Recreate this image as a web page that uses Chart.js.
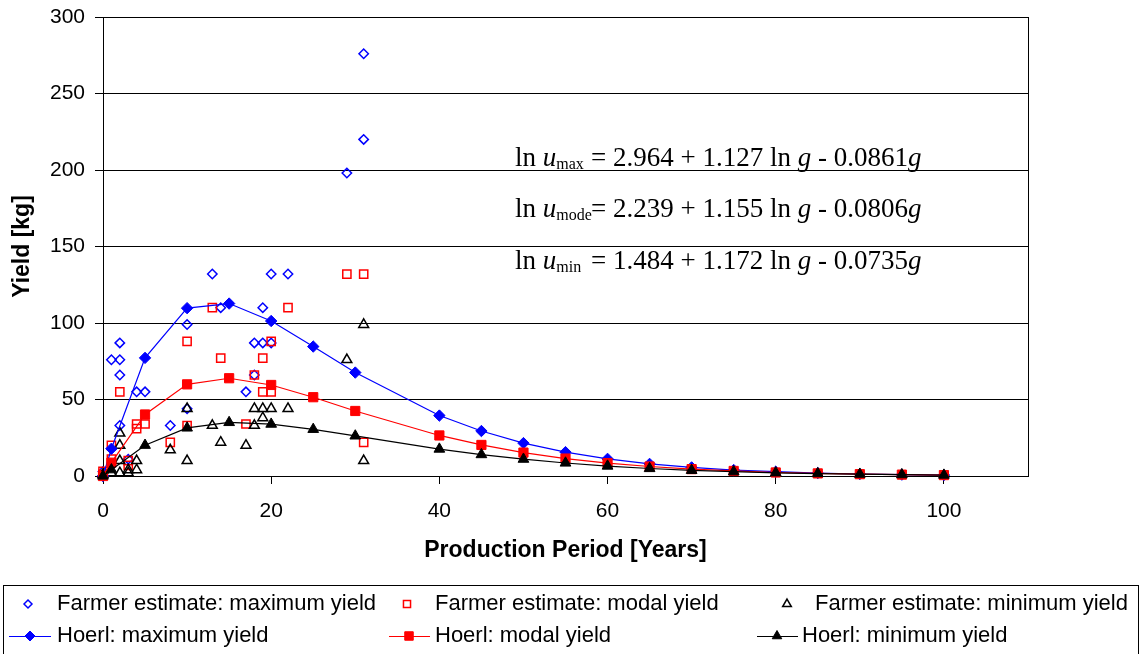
<!DOCTYPE html>
<html lang="en">
<head>
    <meta charset="UTF-8">
    <title>Yield vs production period</title>
    <style>
        body { margin: 0; background: #fff; }
        #chartBlock { width: 1142px; height: 654px; position: relative; }
    </style>
</head>
<body>
    <div id="chartBlock"><canvas id="myChart"></canvas></div>

<script src="https://cdn.jsdelivr.net/npm/chart.js@4/dist/chart.umd.min.js"></script>
<script>
    // farmer estimates: years, kg
    var maxEstX = [0, 2, 1, 2, 2, 2, 3, 4, 5, 8, 10, 10, 13, 14, 17, 18, 18, 19, 19, 20, 20, 22, 29, 31, 31];
    var maxEstY = [3, 87, 76, 76, 66, 33, 11, 55, 55, 33, 99, 44, 132, 110, 55, 87, 66, 110, 87, 132, 87, 132, 198, 276, 220];

    var modeEstX = [0, 0, 1, 1, 2, 3, 3, 4, 4, 5, 8, 10, 10, 13, 14, 17, 18, 19, 19, 20, 20, 22, 29, 31, 31];
    var modeEstY = [1, 3, 20, 11, 55, 10, 7, 34, 31, 34, 22, 88, 33, 110, 77, 34, 66, 77, 55, 88, 55, 110, 132, 132, 22];

    var minEstX = [0, 1, 2, 3, 3, 4, 2, 4, 2, 2, 8, 10, 10, 13, 14, 17, 18, 18, 19, 19, 20, 22, 29, 31, 31];
    var minEstY = [1, 2, 2, 2, 4, 4, 10, 10, 20, 28, 17, 44, 10, 33, 22, 20, 44, 33, 44, 38, 44, 44, 76, 99, 10];

    // Hoerl curves
    var hoerlX = [0, 1, 5, 10, 15, 20, 25, 30, 40, 45, 50, 55, 60, 65, 70, 75, 80, 85, 90, 95, 100];
    var hoerlMax = [0, 17.8, 77.2, 109.7, 112.7, 101.3, 84.6, 67.6, 39.5, 29.4, 21.5, 15.6, 11.2, 7.9, 5.6, 3.9, 2.8, 1.9, 1.3, 0.9, 0.6];
    var hoerlMode = [0, 8.7, 40.2, 59.9, 63.9, 59.5, 51.5, 42.5, 26.5, 20.3, 15.3, 11.4, 8.4, 6.2, 4.5, 3.3, 2.3, 1.7, 1.2, 0.9, 0.6];
    var hoerlMin = [0, 4.1, 20.1, 31.4, 35.0, 33.9, 30.5, 26.2, 17.6, 14.0, 11.0, 8.5, 6.5, 4.9, 3.7, 2.8, 2.1, 1.6, 1.2, 0.9, 0.6];

    var xTicks = [0, 20, 40, 60, 80, 100];

    // fitted equations: ln u = a + b ln g - c g
    var eqSub = ['max', 'mode', 'min'];
    var eqA = ['2.964', '2.239', '1.484'];
    var eqB = ['1.127', '1.155', '1.172'];
    var eqC = ['0.0861', '0.0806', '0.0735'];

    var SANS = '"Liberation Sans", Arial, sans-serif';
    var SERIF = '"Liberation Serif", "Times New Roman", serif';
    Chart.defaults.font.family = SANS;
    Chart.defaults.color = '#000';

    function pts(xs, ys) {
        var out = [];
        for (let i = 0; i < xs.length; i++) {
            out.push({ x: xs[i], y: ys[i] });
        }
        return out;
    }

    function estSet(label, xs, ys, style, color, r) {
        return {
            label: label,
            data: pts(xs, ys),
            pointStyle: style,
            pointRadius: r,
            pointBorderColor: color,
            pointBackgroundColor: 'rgba(0,0,0,0)',
            pointBorderWidth: 1.5,
            showLine: false,
            clip: false
        };
    }

    function hoerlSet(label, ys, style, color, r) {
        return {
            label: label,
            data: pts(hoerlX, ys),
            pointStyle: style,
            pointRadius: r,
            pointBorderColor: color,
            pointBackgroundColor: color,
            pointBorderWidth: 1,
            borderColor: color,
            borderWidth: 1.2,
            showLine: true,
            lineTension: 0,
            clip: false
        };
    }

    var datasets = [
        estSet('Farmer estimate: maximum yield', maxEstX, maxEstY, 'rectRot', '#0000ff', 4.7),
        estSet('Farmer estimate: modal yield', modeEstX, modeEstY, 'rect', '#ff0000', 5.8),
        estSet('Farmer estimate: minimum yield', minEstX, minEstY, 'triangle', '#000000', 5.7),
        hoerlSet('Hoerl: maximum yield', hoerlMax, 'rectRot', '#0000ff', 5.7),
        hoerlSet('Hoerl: modal yield', hoerlMode, 'rect', '#ff0000', 6.5),
        hoerlSet('Hoerl: minimum yield', hoerlMin, 'triangle', '#000000', 6.2)
    ];
    // black drawn last (on top)
    var drawOrder = [6, 5, 4, 3, 2, 1];
    datasets.forEach((d, i) => { d.order = drawOrder[i]; });

    var framePlugin = {
        id: 'frame',
        beforeDatasetsDraw(chart) {
            var a = chart.chartArea, ctx = chart.ctx;
            ctx.save();
            ctx.strokeStyle = '#000';
            ctx.lineWidth = 1;
            ctx.strokeRect(Math.round(a.left) + 0.5, Math.round(a.top) + 0.5,
                Math.round(a.right - a.left), Math.round(a.bottom - a.top));
            ctx.restore();
        }
    };

    var equationPlugin = {
        id: 'equations',
        afterDatasetsDraw(chart) {
            var ctx = chart.ctx, xs = chart.scales.x, ys = chart.scales.y;
            var baseVals = [202.4, 169, 135];
            ctx.save();
            ctx.fillStyle = '#000';
            ctx.textBaseline = 'alphabetic';
            ctx.textAlign = 'left';
            for (let i = 0; i < eqSub.length; i++) {
                var x0 = xs.getPixelForValue(49);
                var y = ys.getPixelForValue(baseVals[i]);
                var cx = x0;
                ctx.font = '27px ' + SERIF;
                ctx.fillText('ln ', cx, y);
                cx += ctx.measureText('ln ').width;
                ctx.font = 'italic 27px ' + SERIF;
                ctx.fillText('u', cx, y);
                cx += ctx.measureText('u').width;
                ctx.font = '16px ' + SERIF;
                ctx.fillText(eqSub[i], cx, y + 3);
                cx = x0 + 76;
                var parts = [
                    ['= ' + eqA[i] + ' + ' + eqB[i] + ' ln ', ''],
                    ['g', 'italic '],
                    [' - ' + eqC[i], ''],
                    ['g', 'italic ']
                ];
                parts.forEach(p => {
                    ctx.font = p[1] + '27px ' + SERIF;
                    ctx.fillText(p[0], cx, y);
                    cx += ctx.measureText(p[0]).width;
                });
            }
            ctx.restore();
        }
    };

    var legendPlugin = {
        id: 'boxLegend',
        afterDraw(chart) {
            var ctx = chart.ctx;
            var items = [
                { ds: 0, mx: 28, tx: 57, y: 604, r: 4 },
                { ds: 1, mx: 407, tx: 435, y: 604, r: 5 },
                { ds: 2, mx: 787, tx: 815, y: 604, r: 5 },
                { ds: 3, mx: 30, tx: 57, y: 636, r: 5, l0: 9, l1: 51 },
                { ds: 4, mx: 409, tx: 435, y: 636, r: 6, l0: 389, l1: 430 },
                { ds: 5, mx: 777, tx: 802, y: 636, r: 5.5, l0: 757, l1: 798 }
            ];
            ctx.save();
            ctx.strokeStyle = '#000';
            ctx.lineWidth = 1;
            ctx.strokeRect(3.5, 585.5, 1135, 80);
            ctx.font = '22px ' + SANS;
            ctx.textBaseline = 'middle';
            ctx.textAlign = 'left';
            items.forEach(it => {
                var ds = chart.data.datasets[it.ds];
                if (it.l0 !== undefined) {
                    ctx.strokeStyle = ds.borderColor;
                    ctx.lineWidth = 1;
                    ctx.beginPath();
                    ctx.moveTo(it.l0, it.y + 0.5);
                    ctx.lineTo(it.l1, it.y + 0.5);
                    ctx.stroke();
                }
                ctx.fillStyle = ds.pointBackgroundColor;
                ctx.strokeStyle = ds.pointBorderColor;
                ctx.lineWidth = ds.pointBorderWidth;
                Chart.helpers.drawPoint(ctx, {
                    pointStyle: ds.pointStyle, radius: it.r, rotation: 0, borderWidth: ds.pointBorderWidth
                }, it.mx, it.y);
                ctx.fillStyle = '#000';
                ctx.fillText(ds.label, it.tx, it.y);
            });
            ctx.restore();
        }
    };

    window.onload = function () {
        var ctx = document.getElementById('myChart').getContext('2d');
        new Chart(ctx, {
            type: 'scatter',
            data: { datasets: datasets },
            options: {
                responsive: true,
                maintainAspectRatio: false,
                animation: false,
                layout: { padding: { left: 0, top: 17, right: 114, bottom: 86 } },
                plugins: {
                    legend: { display: false },
                    tooltip: { enabled: false }
                },
                scales: {
                    x: {
                        type: 'linear',
                        min: 0,
                        max: 110,
                        afterBuildTicks: (s) => { s.ticks = xTicks.map(v => ({ value: v })); },
                        afterFit: (s) => {
                            s.height = 92;
                            s.paddingLeft = 0;
                            s.paddingRight = 0;
                        },
                        grid: { drawOnChartArea: false, tickLength: 8, color: '#000' },
                        border: { color: '#000' },
                        ticks: { font: { size: 21 }, color: '#000', padding: 15, maxRotation: 0 },
                        title: {
                            display: true,
                            text: 'Production Period [Years]',
                            font: { size: 23, weight: 'bold' },
                            color: '#000',
                            padding: { top: 0, bottom: 4 }
                        }
                    },
                    y: {
                        min: 0,
                        max: 300,
                        afterFit: (s) => {
                            s.width = 103;
                            s.paddingTop = 0;
                            s.paddingBottom = 0;
                        },
                        grid: { color: '#000', tickLength: 8 },
                        border: { color: '#000' },
                        ticks: { stepSize: 50, font: { size: 21 }, color: '#000', padding: 10 },
                        title: {
                            display: true,
                            text: 'Yield [kg]',
                            font: { size: 23, weight: 'bold' },
                            color: '#000',
                            padding: { top: 9, bottom: 0 }
                        }
                    }
                }
            },
            plugins: [framePlugin, equationPlugin, legendPlugin]
        });
    };
</script>
</body>
</html>
